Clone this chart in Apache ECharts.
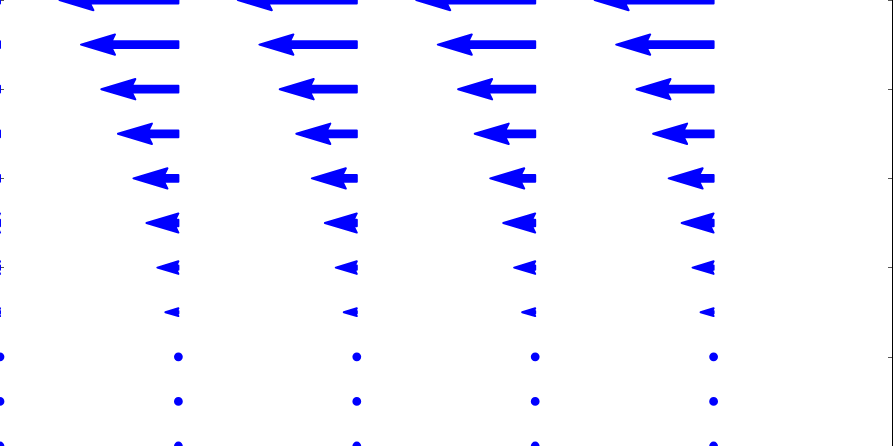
<!DOCTYPE html>
<html>
<head>
<meta charset="utf-8">
<script src="https://cdn.jsdelivr.net/npm/echarts@6/dist/echarts.min.js"></script>
<style>
html,body{margin:0;padding:0;background:#fff;}
#chart{width:894px;height:446px;}
</style>
</head>
<body>
<div id="chart"></div>
<script>
// Quiver grid: column positions (x), row positions (y, top to bottom), and u component per row (v = 0)
const xCols = [0, 1, 2, 3, 4];
const yRows = [10, 9, 8, 7, 6, 5, 4, 3, 2, 1, 0];
const uVals = [-0.667, -0.546, -0.432, -0.339, -0.252, -0.179, -0.118, -0.073, 0, 0, 0];
const vVals = [0, 0, 0, 0, 0, 0, 0, 0, 0, 0, 0];
const yTicks = [0, 2, 4, 6, 8, 10];

const data = [];
yRows.forEach((y, i) => {
  xCols.forEach(x => { data.push([x, y, uVals[i], vVals[i]]); });
});

const W = 6.8; // shaft width in px
const HEADW = 3, HEADL = 5, HEADAXL = 4.5, MINSHAFT = 1, MINLEN = 1;
const COLOR = '#0000ff';

function renderItem(params, api) {
  const x = api.value(0), y = api.value(1), u = api.value(2), v = api.value(3);
  const p0 = api.coord([x, y]);
  const p1 = api.coord([x + u, y + v]);
  const dx = p1[0] - p0[0], dy = p1[1] - p0[1];
  const L = Math.hypot(dx, dy);
  const style = { fill: COLOR, stroke: COLOR, lineWidth: 2, lineJoin: 'round' };
  if (L < MINLEN * W) {
    return { type: 'circle', shape: { cx: p0[0], cy: p0[1], r: MINLEN * 0.5 * W }, style: style };
  }
  const ux = dx / L, uy = dy / L;
  const minsh = MINSHAFT * HEADL * W;
  let pts;
  if (L >= minsh) {
    pts = [[0, -0.5 * W], [L - HEADAXL * W, -0.5 * W], [L - HEADL * W, -0.5 * HEADW * W], [L, 0],
           [L - HEADL * W, 0.5 * HEADW * W], [L - HEADAXL * W, 0.5 * W], [0, 0.5 * W]];
  } else {
    const s = L / minsh;
    const a = (HEADL - HEADAXL) * W * s;
    pts = [[0, -0.5 * W * s], [a, -0.5 * W * s], [0, -0.5 * HEADW * W * s], [L, 0],
           [0, 0.5 * HEADW * W * s], [a, 0.5 * W * s], [0, 0.5 * W * s]];
  }
  const points = pts.map(p => [p0[0] + p[0] * ux - p[1] * uy, p0[1] + p[0] * uy + p[1] * ux]);
  return { type: 'polygon', shape: { points: points }, style: style };
}

const chart = echarts.init(document.getElementById('chart'), null, { renderer: 'canvas' });
const yAxisBase = {
  type: 'value', min: yTicks[0], max: yTicks[yTicks.length - 1], interval: 2,
  axisLabel: { show: false }, splitLine: { show: false },
  axisTick: { show: true, inside: true, length: 4, lineStyle: { color: '#555', width: 1 } }
};
chart.setOption({
  animation: false,
  backgroundColor: '#ffffff',
  grid: { left: 0, right: 2, top: 0, bottom: 0, containLabel: false },
  xAxis: { type: 'value', min: 0, max: 5, show: false },
  yAxis: [
    Object.assign({}, yAxisBase, { position: 'left', axisLine: { show: false } }),
    Object.assign({}, yAxisBase, { position: 'right', axisLine: { show: true, lineStyle: { color: '#000', width: 1 } } })
  ],
  series: [{
    type: 'custom',
    renderItem: renderItem,
    clip: true,
    encode: { x: 0, y: 1 },
    data: data
  }]
});
</script>
</body>
</html>
